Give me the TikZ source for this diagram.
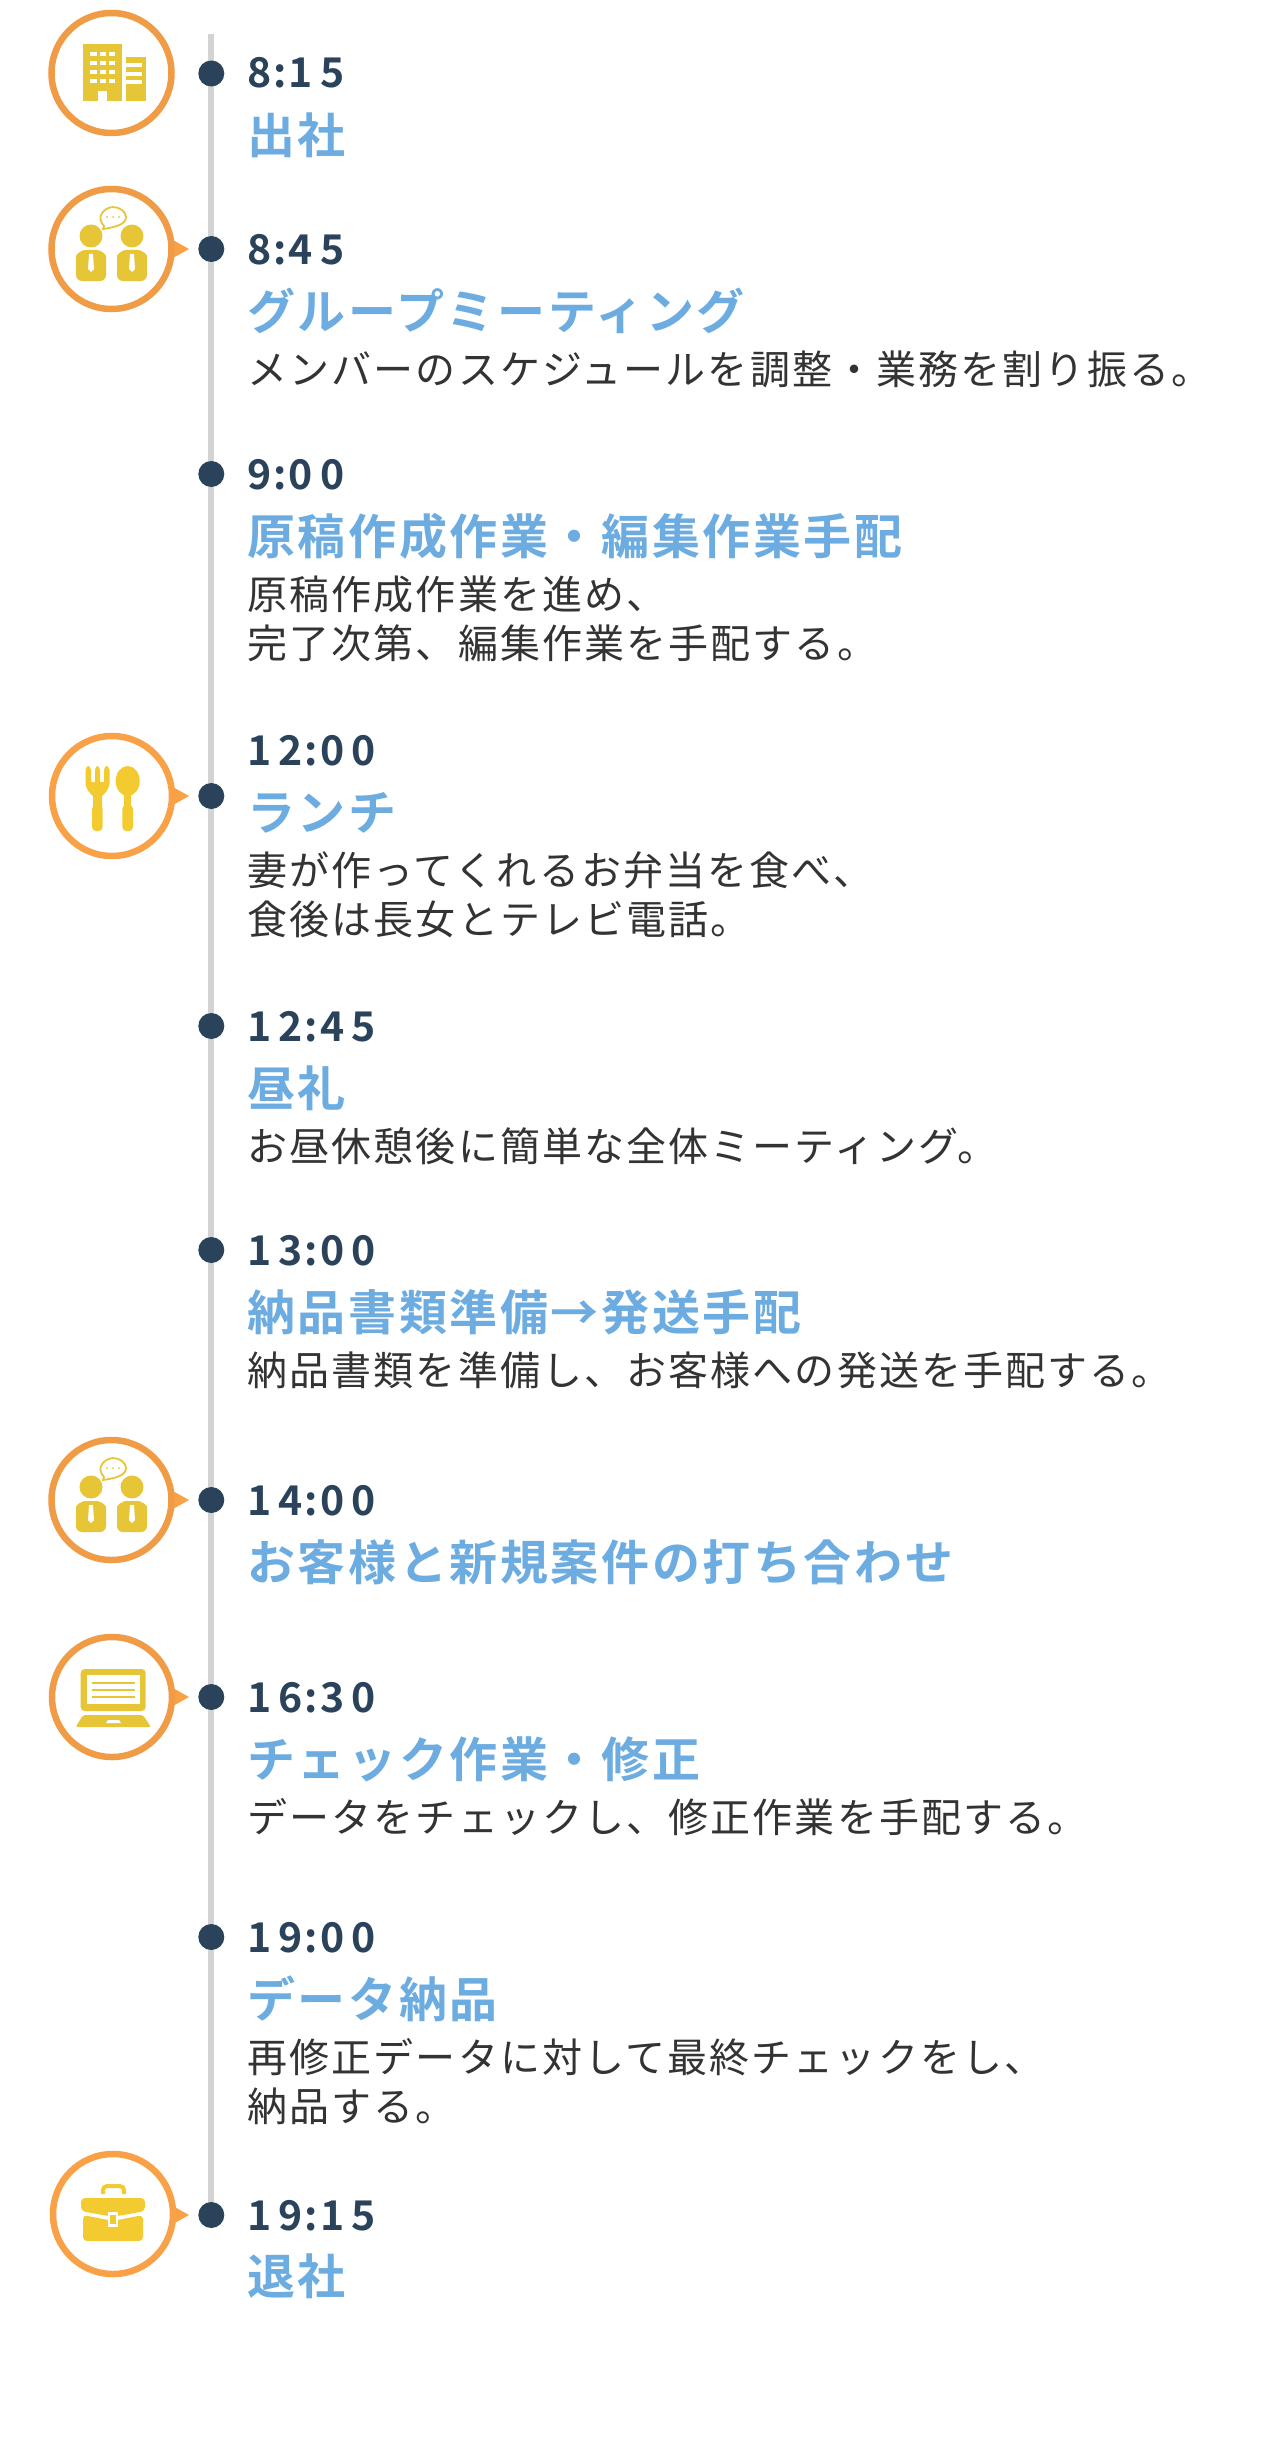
\documentclass[tikz,border=0pt]{standalone}
\usepackage{fontspec}
\setmainfont{Noto Sans CJK JP}
\newfontfamily\timefont[LetterSpace=17,BoldFont={* Bold}]{Noto Sans CJK JP}
\newfontfamily\titlefont[LetterSpace=5.4,BoldFont={* Bold}]{Noto Sans CJK JP}
\newfontfamily\bodyfont[LetterSpace=5.3]{Noto Sans CJK JP}
\newcommand{\tc}{\kern1pt:\kern1pt}
\definecolor{navy}{HTML}{2A435A}
\definecolor{sky}{HTML}{6CACE0}
\definecolor{ink}{HTML}{333333}
\definecolor{railgray}{HTML}{D3D3D3}
\definecolor{ringa}{HTML}{F09C46}
\definecolor{ringb}{HTML}{F9A146}
\definecolor{icona}{HTML}{E6C537}
\definecolor{iconb}{HTML}{F3CB31}
\tikzset{
  timetext/.style={anchor=base west,inner sep=0pt,text=navy,font=\fontsize{20.5pt}{24pt}\timefont\bfseries},
  titletext/.style={anchor=base west,inner sep=0pt,text=sky,font=\fontsize{24pt}{28pt}\titlefont\bfseries},
  bodytext/.style={anchor=base west,inner sep=0pt,text=ink,align=left,font=\fontsize{20pt}{24.5pt}\bodyfont},
  dotmark/.style={circle,fill=navy,minimum size=13pt,inner sep=0pt},
  ringmark/.style={circle,draw=#1,line width=3.25pt,fill=none,minimum size=60pt,inner sep=0pt},
}
\newcommand{\groupicon}[1]{%
 \begin{scope}[yshift=#1*-0.5pt]
  \fill[icona] (91,236) circle (11.5) (132,236) circle (11.5);
  \fill[icona,rounded corners=3pt] (76,262) .. controls (76,254) and (82,250) .. (91,250) .. controls (100,250) and (106,254) .. (106,262) -- (106,281) -- (76,281) -- cycle;
  \fill[icona,rounded corners=3pt] (117,262) .. controls (117,254) and (123,250) .. (132,250) .. controls (141,250) and (147,254) .. (147,262) -- (147,281) -- (117,281) -- cycle;
  \fill[white] (89,254) -- (93,254) -- (94,269) -- (91,272) -- (88,269) -- cycle;
  \fill[white] (130,254) -- (134,254) -- (135,269) -- (132,272) -- (129,269) -- cycle;
  \draw[icona,line width=0.9pt,fill=white] (104,226) .. controls (100,222) and (100,217) .. (101,215) .. controls (103,210) and (109,207) .. (113,207) .. controls (120,207) and (126,212) .. (126,217) .. controls (126,224) and (117,227) .. (103,229) -- cycle;
  \fill[icona] (107,217) circle (1) (113,217) circle (1) (119,217) circle (1);
 \end{scope}}
\begin{document}
\begin{tikzpicture}[x=0.5pt,y=-0.5pt]
\useasboundingbox (0,0) rectangle (1260,2440);
\fill[white] (0,0) rectangle (1260,2440);
\coordinate (railtop) at (211.3,34);
\coordinate (railbot) at (211.3,2215);
\draw[railgray,line width=3pt] (railtop) -- (railbot);
% rows
\foreach \n/\y in {a/73.5,b/249,c/474,d/796,e/1026,f/1250,g/1500,h/1697,i/1937,j/2215}{
  \node[dotmark] (dot\n) at (211.3,\y) {};
}
% pointers
\foreach \n/\y in {b/249,d/796,g/1500,h/1697,j/2215}{
  \fill[ringb] (172,\y-9.5) -- (189,\y) -- (172,\y+9.5) -- cycle;
}
% rings
\node[ringmark=ringa] (ringa) at (111.5,73) {};
\node[ringmark=ringa] (ringb) at (111.5,249) {};
\node[ringmark=ringb] (ringd) at (112,796) {};
\node[ringmark=ringa] (ringg) at (111.5,1500) {};
\node[ringmark=ringa] (ringh) at (112,1697) {};
\node[ringmark=ringb] (ringj) at (113,2214) {};
% building
\fill[icona] (83,44) rectangle (122,101);
\fill[icona] (126,57) rectangle (146,101);
\foreach \yy in {52,61,70,79}{
  \foreach \xx in {93.3,103,112}{ \fill[white] (\xx-3.2,\yy) rectangle (\xx+3.2,\yy+3.6); }
}
\fill[white] (98,91) rectangle (107,101);
\foreach \yy in {63,72,80}{ \fill[white] (126,\yy) rectangle (142,\yy+4.5); }
% group
\groupicon{0}
\groupicon{1251}
% fork
\fill[iconb,rounded corners=2pt] (85.5,766) rectangle (91,786);
\fill[iconb,rounded corners=2pt] (95,766) rectangle (100,786);
\fill[iconb,rounded corners=2pt] (104,766) rectangle (109.5,786);
\fill[iconb] (85.5,782) -- (109.5,782) .. controls (109.5,790) and (104,794) .. (102,796) -- (102,807) -- (93,807) -- (93,796) .. controls (91,794) and (85.5,790) .. (85.5,782) -- cycle;
\fill[iconb,rounded corners=2pt] (92,805) rectangle (102.7,831);
% spoon
\fill[iconb] (127.7,781) ellipse (12 and 15);
\fill[iconb] (124,790) rectangle (131,808);
\fill[iconb,rounded corners=2pt] (122.3,805) rectangle (133,831);
% laptop
\fill[icona,rounded corners=2pt] (80.7,1669) rectangle (145.7,1711);
\fill[white] (87,1675) rectangle (140,1704);
\foreach \yy in {1683,1690,1697}{ \fill[icona] (92,\yy-1) rectangle (135,\yy+1); }
\fill[icona,rounded corners=1pt] (75.7,1727) -- (83,1715) -- (143,1715) -- (151,1727) -- cycle;
\fill[white] (108,1720) -- (119,1720) -- (121,1723) -- (106,1723) -- cycle;
% briefcase
\draw[iconb,line width=2pt,rounded corners=2pt] (103,2194) -- (103,2186) -- (124,2186) -- (124,2194);
\fill[iconb,rounded corners=2pt] (81,2211) -- (81,2198) -- (145,2198) -- (145,2211) -- (118,2216) -- (108,2216) -- cycle;
\fill[iconb,rounded corners=2pt] (83,2215) -- (108,2220) -- (118,2220) -- (143,2215) -- (143,2241) -- (83,2241) -- cycle;
\fill[white] (108,2212) rectangle (118,2227);
\fill[iconb] (110,2215) rectangle (116,2224);
% text
\node[timetext] (t1) at (247,88) {8\tc 15};
\node[titletext] (h1) at (247,154) {出社};
\node[timetext] (t2) at (247,264) {8\tc 45};
\node[titletext] (h2) at (247,329) {グループミーティング};
\node[bodytext] (b2) at (247,384) {メンバーのスケジュールを調整・業務を割り振る。};
\node[timetext] (t3) at (247,489) {9\tc 00};
\node[titletext] (h3) at (247,554) {原稿作成作業・編集作業手配};
\node[bodytext] (b3) at (247,609) {原稿作成作業を進め、};
\node[bodytext] (b3b) at (247,658) {完了次第、編集作業を手配する。};
\node[timetext] (t4) at (247,765) {12\tc 00};
\node[titletext] (h4) at (247,830) {ランチ};
\node[bodytext] (b4) at (247,885) {妻が作ってくれるお弁当を食べ、};
\node[bodytext] (b4b) at (247,934) {食後は長女とテレビ電話。};
\node[timetext] (t5) at (247,1041) {12\tc 45};
\node[titletext] (h5) at (247,1106) {昼礼};
\node[bodytext] (b5) at (247,1161) {お昼休憩後に簡単な全体ミーティング。};
\node[timetext] (t6) at (247,1265) {13\tc 00};
\node[titletext] (h6) at (247,1330) {納品書類準備→発送手配};
\node[bodytext] (b6) at (247,1385) {納品書類を準備し、お客様への発送を手配する。};
\node[timetext] (t7) at (247,1515) {14\tc 00};
\node[titletext] (h7) at (247,1580) {お客様と新規案件の打ち合わせ};
\node[timetext] (t8) at (247,1712) {16\tc 30};
\node[titletext] (h8) at (247,1777) {チェック作業・修正};
\node[bodytext] (b8) at (247,1832) {データをチェックし、修正作業を手配する。};
\node[timetext] (t9) at (247,1952) {19\tc 00};
\node[titletext] (h9) at (247,2017) {データ納品};
\node[bodytext] (b9) at (247,2072) {再修正データに対して最終チェックをし、};
\node[bodytext] (b9b) at (247,2121) {納品する。};
\node[timetext] (t10) at (247,2230) {19\tc 15};
\node[titletext] (h10) at (247,2294) {退社};
\end{tikzpicture}
\end{document}
